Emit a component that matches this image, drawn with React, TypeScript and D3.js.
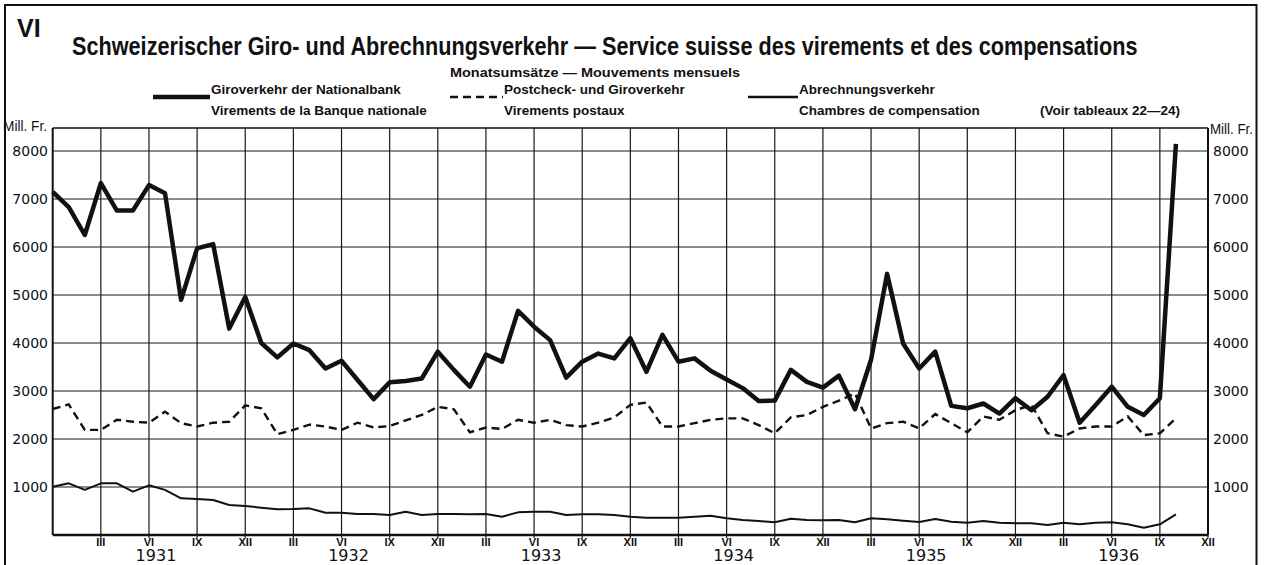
import { useRef, useEffect } from 'react'
import * as d3 from 'd3'

// month-end observations, Dec 1930 .. Oct 1936
const months = [
  '1930-12',
  '1931-01', '1931-02', '1931-03', '1931-04', '1931-05', '1931-06', '1931-07', '1931-08', '1931-09', '1931-10', '1931-11', '1931-12',
  '1932-01', '1932-02', '1932-03', '1932-04', '1932-05', '1932-06', '1932-07', '1932-08', '1932-09', '1932-10', '1932-11', '1932-12',
  '1933-01', '1933-02', '1933-03', '1933-04', '1933-05', '1933-06', '1933-07', '1933-08', '1933-09', '1933-10', '1933-11', '1933-12',
  '1934-01', '1934-02', '1934-03', '1934-04', '1934-05', '1934-06', '1934-07', '1934-08', '1934-09', '1934-10', '1934-11', '1934-12',
  '1935-01', '1935-02', '1935-03', '1935-04', '1935-05', '1935-06', '1935-07', '1935-08', '1935-09', '1935-10', '1935-11', '1935-12',
  '1936-01', '1936-02', '1936-03', '1936-04', '1936-05', '1936-06', '1936-07', '1936-08', '1936-09', '1936-10',
]

// Giroverkehr der Nationalbank (Mill. Fr.)
const giroNationalbank = [
  7150, 6830, 6250, 7330, 6760, 6760, 7290, 7120, 4900, 5970, 6060, 4300, 4960,
  4000, 3700, 3990, 3850, 3470, 3630, 3230, 2830, 3180, 3210, 3260, 3820,
  3440, 3090, 3760, 3610, 4670, 4340, 4060, 3280, 3610, 3780, 3680, 4100,
  3400, 4170, 3610, 3680, 3420, 3240, 3060, 2790, 2800, 3440, 3190, 3070,
  3320, 2620, 3650, 5440, 3990, 3470, 3820, 2690, 2640, 2740, 2530, 2850,
  2600, 2880, 3330, 2340, 2710, 3090, 2670, 2500, 2850, 8150,
]

// Postcheck- und Giroverkehr
const postcheck = [
  2625, 2720, 2190, 2190, 2400, 2360, 2340, 2570, 2330, 2260, 2340, 2360, 2700,
  2640, 2100, 2190, 2300, 2260, 2190, 2340, 2240, 2270, 2390, 2500, 2670,
  2620, 2140, 2240, 2210, 2400, 2340, 2400, 2290, 2260, 2340, 2450, 2710,
  2760, 2260, 2260, 2330, 2400, 2430, 2430, 2290, 2120, 2450, 2500, 2670,
  2800, 2950, 2220, 2330, 2360, 2220, 2520, 2330, 2140, 2470, 2400, 2600,
  2710, 2120, 2050, 2220, 2260, 2260, 2470, 2080, 2120, 2430,
]

// Abrechnungsverkehr
const abrechnung = [
  1006, 1076, 940, 1076, 1076, 903, 1035, 940, 764, 750, 730, 625, 604,
  570, 535, 540, 555, 465, 465, 437, 437, 417, 486, 417, 437,
  437, 430, 437, 382, 472, 486, 486, 417, 430, 430, 417, 382,
  361, 361, 361, 382, 403, 347, 312, 292, 264, 340, 312, 306,
  312, 264, 347, 326, 299, 271, 333, 278, 257, 292, 257, 243,
  243, 208, 257, 222, 257, 264, 222, 153, 222, 431,
]

const yTicks = [1000, 2000, 3000, 4000, 5000, 6000, 7000, 8000]
const quarterLabels = ['III', 'VI', 'IX', 'XII']
const years = ['1931', '1932', '1933', '1934', '1935', '1936']

const W = 1265
const H = 565
const FONT = '"Liberation Sans", Arial, sans-serif'
const NUM_FONT = '"DejaVu Sans", sans-serif'

export default function App() {
  const svgRef = useRef<SVGSVGElement>(null)

  useEffect(() => {
    if (!svgRef.current) return
    document.body.style.margin = '0'
    const svg = d3.select(svgRef.current)
    svg.selectAll('*').remove()

    const left = 52.7
    const right = 1208
    const top = 128
    const bottom = 535

    // index 0 = end of Dec 1930, 72 = end of Dec 1936
    const x = d3.scaleLinear().domain([0, months.length + 1]).range([left, right])
    const y = d3.scaleLinear().domain([0, 8000]).range([bottom, 151])

    svg.append('rect').attr('width', W).attr('height', H).attr('fill', '#fff')

    // outer frame (bottom edge runs off the page, as in the scan)
    svg.append('path')
      .attr('d', `M5,${H + 5}V5H1256.5V${H + 5}`)
      .attr('fill', 'none').attr('stroke', '#111').attr('stroke-width', 2)

    const g = svg.append('g')

    // horizontal grid
    g.selectAll('.hgrid')
      .data(yTicks)
      .join('line')
      .attr('x1', left).attr('x2', right)
      .attr('y1', (d) => y(d)).attr('y2', (d) => y(d))
      .attr('stroke', '#1a1a1a').attr('stroke-width', 1.2)

    // vertical quarter grid
    const qIdx = d3.range(3, months.length + 2, 3)
    g.selectAll('.vgrid')
      .data(qIdx)
      .join('line')
      .attr('x1', (d) => x(d)).attr('x2', (d) => x(d))
      .attr('y1', top).attr('y2', bottom + 3)
      .attr('stroke', '#1a1a1a')
      .attr('stroke-width', 1.2)

    // plot frame
    g.append('line').attr('x1', left).attr('x2', right).attr('y1', top).attr('y2', top)
      .attr('stroke', '#111').attr('stroke-width', 1.6)
    g.append('line').attr('x1', left).attr('x2', left).attr('y1', top).attr('y2', bottom)
      .attr('stroke', '#111').attr('stroke-width', 2)
    g.append('line').attr('x1', right).attr('x2', right).attr('y1', top).attr('y2', bottom)
      .attr('stroke', '#111').attr('stroke-width', 2)
    g.append('line').attr('x1', left).attr('x2', right).attr('y1', bottom).attr('y2', bottom)
      .attr('stroke', '#111').attr('stroke-width', 2.6)

    // y labels, both sides
    g.selectAll('.ylab-l')
      .data(yTicks)
      .join('text')
      .attr('x', 48).attr('y', (d) => y(d) + 5)
      .attr('text-anchor', 'end')
      .attr('font-family', NUM_FONT).attr('font-size', 14)
      .attr('fill', '#111')
      .text((d) => d)
    g.selectAll('.ylab-r')
      .data(yTicks)
      .join('text')
      .attr('x', 1213).attr('y', (d) => y(d) + 5)
      .attr('font-family', NUM_FONT).attr('font-size', 14)
      .attr('fill', '#111')
      .text((d) => d)

    g.append('text').attr('x', 3).attr('y', 131)
      .attr('font-family', FONT).attr('font-size', 14).attr('textLength', 44)
      .attr('lengthAdjust', 'spacingAndGlyphs').attr('fill', '#111').text('Mill. Fr.')
    g.append('text').attr('x', 1210).attr('y', 134)
      .attr('font-family', FONT).attr('font-size', 14).attr('textLength', 43)
      .attr('lengthAdjust', 'spacingAndGlyphs').attr('fill', '#111').text('Mill. Fr.')

    // x labels
    g.selectAll('.qlab')
      .data(qIdx)
      .join('text')
      .attr('x', (d) => x(d)).attr('y', 546)
      .attr('text-anchor', 'middle')
      .attr('font-family', FONT).attr('font-size', 11).attr('font-weight', 'bold')
      .attr('fill', '#111')
      .text((d, i) => quarterLabels[i % 4])
    g.selectAll('.year')
      .data(years)
      .join('text')
      .attr('x', (d, i) => x(6 + i * 12) + 7).attr('y', 561)
      .attr('text-anchor', 'middle')
      .attr('font-family', NUM_FONT).attr('font-size', 16)
      .attr('fill', '#111')
      .text((d) => d)

    // series
    const line = d3.line<number>()
      .x((_, i) => x(i))
      .y((d) => y(d))

    g.append('path').datum(abrechnung).attr('d', line)
      .attr('fill', 'none').attr('stroke', '#111').attr('stroke-width', 2)
      .attr('stroke-linejoin', 'round')
    g.append('path').datum(postcheck).attr('d', line)
      .attr('fill', 'none').attr('stroke', '#111').attr('stroke-width', 2.4)
      .attr('stroke-dasharray', '8,5')
    g.append('path').datum(giroNationalbank).attr('d', line)
      .attr('fill', 'none').attr('stroke', '#111').attr('stroke-width', 4.5)
      .attr('stroke-linejoin', 'round')

    // headings
    svg.append('text').attr('x', 17).attr('y', 37)
      .attr('font-family', FONT).attr('font-size', 25).attr('font-weight', 'bold')
      .attr('fill', '#111').text('VI')
    // condensed title: squeeze horizontally with a transform
    const title = svg.append('text')
      .attr('font-family', FONT).attr('font-size', 26).attr('font-weight', 'bold')
      .attr('fill', '#111')
      .text('Schweizerischer Giro- und Abrechnungsverkehr — Service suisse des virements et des compensations')
    const tw = (title.node() as SVGTextElement).getComputedTextLength() || 1290
    title.attr('transform', `translate(72,55) scale(${1066 / tw},1)`)

    svg.append('text').attr('x', 450).attr('y', 77)
      .attr('font-family', FONT).attr('font-size', 12.5).attr('font-weight', 'bold')
      .attr('textLength', 290).attr('lengthAdjust', 'spacingAndGlyphs')
      .attr('fill', '#111').text('Monatsumsätze — Mouvements mensuels')

    // legend
    const legend = [
      { x1: 153, x2: 210, sw: 4.5, dash: null, l1: 'Giroverkehr der Nationalbank', l2: 'Virements de la Banque nationale' },
      { x1: 450, x2: 503, sw: 2.4, dash: '8,5', l1: 'Postcheck- und Giroverkehr', l2: 'Virements postaux' },
      { x1: 748, x2: 798, sw: 2.6, dash: null, l1: 'Abrechnungsverkehr', l2: 'Chambres de compensation' },
    ]
    legend.forEach((d) => {
      svg.append('line').attr('x1', d.x1).attr('x2', d.x2).attr('y1', 97).attr('y2', 97)
        .attr('stroke', '#111').attr('stroke-width', d.sw)
        .attr('stroke-dasharray', d.dash)
      svg.append('text').attr('x', d.x2 + 1).attr('y', 94)
        .attr('font-family', FONT).attr('font-size', 13.5).attr('font-weight', 'bold')
        .attr('fill', '#111').text(d.l1)
      svg.append('text').attr('x', d.x2 + 1).attr('y', 115)
        .attr('font-family', FONT).attr('font-size', 13.5).attr('font-weight', 'bold')
        .attr('fill', '#111').text(d.l2)
    })
    svg.append('text').attr('x', 1040).attr('y', 115)
      .attr('font-family', FONT).attr('font-size', 13.5).attr('font-weight', 'bold')
      .attr('fill', '#111').text('(Voir tableaux 22—24)')

    return () => {
      svg.selectAll('*').remove()
    }
  }, [])

  return (
    <svg
      ref={svgRef}
      width={W}
      height={H}
      style={{ position: 'absolute', left: 0, top: 0, display: 'block' }}
    />
  )
}
